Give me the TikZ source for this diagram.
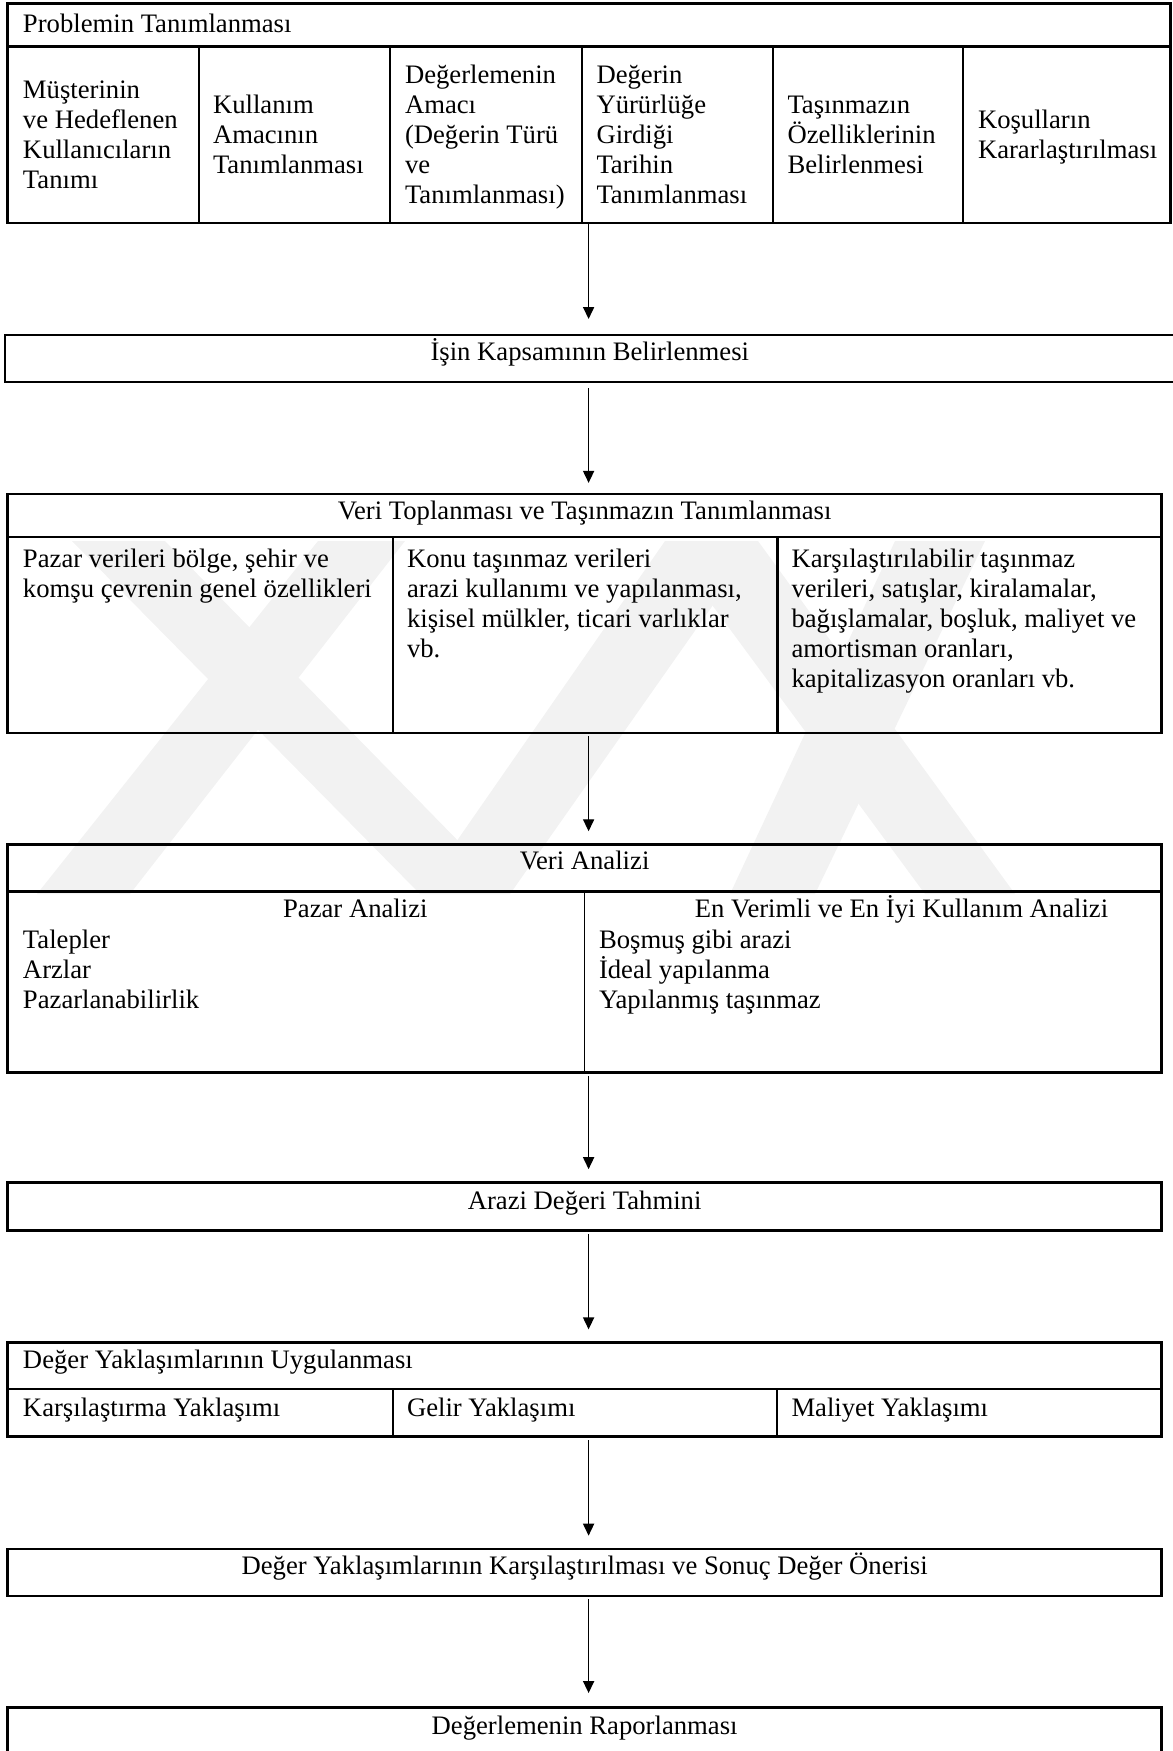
\documentclass[tikz,border=0pt]{standalone}
\usepackage{fontspec}
\setmainfont{Liberation Serif}
\usetikzlibrary{arrows.meta,fit}
% strut that fixes the height of a cell's first line
\newcommand\cellstrut{\rule{0pt}{9pt}}
\begin{document}
\begin{tikzpicture}[x=0.45pt,y=-0.45pt,
  frame/.style={draw, line width=1.2pt, inner sep=0pt, outer sep=0pt, fit={#1}},
  rule/.style={line width=1.0pt},
  thinrule/.style={line width=0.55pt},
  band/.style={fill=black!5},
  txt/.style={inner sep=0pt, outer sep=0pt, font=\fontsize{12pt}{13.6pt}\selectfont},
  cell/.style={txt, align=left, anchor=north west},
  lefttxt/.style={txt, anchor=base west},
  midtxt/.style={txt, anchor=base},
  flow/.style={line width=0.6pt, -{Triangle[length=5.4pt,width=5pt]},
               shorten <=1.5pt, shorten >=6pt}]
\useasboundingbox (0,0) rectangle (1173,1751);
\coordinate (ax) at (588.6,0);

% ---- faint background emblem (diagonal bands)
\fill[band] (37,894) -- (130,894) -- (405,541) -- (318,541) -- cycle;
\fill[band] (72,541) -- (165,541) -- (510,894) -- (420,894) -- cycle;
\fill[band] (665,541) -- (758,541) -- (510,894) -- (420,894) -- cycle;
\fill[band] (665,541) -- (758,541) -- (1015,894) -- (925,894) -- cycle;
\fill[band] (730,894) -- (815,894) -- (985,541) -- (895,541) -- cycle;

% ---- Problemin Tanımlanması
\node[frame={(7.5,3.3) (1170.7,223)}] (b1) {};
\draw[rule] (7.5,46.5) -- (1170.7,46.5);
\foreach \xx in {199,390,582,773,963} \draw[rule] (\xx,46.5) -- (\xx,223);
\node[lefttxt] (t1) at (23,33) {Problemin Tanımlanması};
\node[cell] (c11) at (23,78) {\cellstrut Müşterinin\\ve Hedeflenen\\Kullanıcıların\\Tanımı};
\node[cell] (c12) at (213,93.3) {\cellstrut Kullanım\\Amacının\\Tanımlanması};
\node[cell] (c13) at (405,63.1) {\cellstrut Değerlemenin\\Amacı\\(Değerin Türü\\ve\\Tanımlanması)};
\node[cell] (c14) at (596.5,63.1) {\cellstrut Değerin\\Yürürlüğe\\Girdiği\\Tarihin\\Tanımlanması};
\node[cell] (c15) at (787.5,93.3) {\cellstrut Taşınmazın\\Özelliklerinin\\Belirlenmesi};
\node[cell] (c16) at (978,108.4) {\cellstrut Koşulların\\Kararlaştırılması};

% ---- İşin Kapsamının Belirlenmesi
\node[frame={(5,335) (1182,382)}] (b2) {};
\node[midtxt] (t2) at (589.8,360) {İşin Kapsamının Belirlenmesi};

% ---- Veri Toplanması
\node[frame={(7.5,494) (1161.7,733)}] (b3) {};
\draw[rule] (7.5,537) -- (1161.7,537);
\foreach \xx in {393,777.5} \draw[rule] (\xx,537) -- (\xx,733);
\node[midtxt] (t3) at (584.6,519) {Veri Toplanması ve Taşınmazın Tanımlanması};
\node[cell] (c31) at (23,547) {\cellstrut Pazar verileri bölge, şehir ve\\komşu çevrenin genel özellikleri};
\node[cell] (c32) at (407,547) {\cellstrut Konu taşınmaz verileri\\arazi kullanımı ve yapılanması,\\kişisel mülkler, ticari varlıklar\\vb.};
\node[cell] (c33) at (791.5,547) {\cellstrut Karşılaştırılabilir taşınmaz\\verileri, satışlar, kiralamalar,\\bağışlamalar, boşluk, maliyet ve\\amortisman oranları,\\kapitalizasyon oranları vb.};

% ---- Veri Analizi
\node[frame={(7.5,844.6) (1161.7,1072.5)}] (b4) {};
\draw[rule] (7.5,891.5) -- (1161.7,891.5);
\draw[thinrule] (584.3,891.5) -- (584.3,1072.5);
\node[midtxt] (t4) at (584.6,869) {Veri Analizi};
\node[midtxt] (t41) at (355.3,917) {Pazar Analizi};
\node[midtxt] (t42) at (901.5,917) {En Verimli ve En İyi Kullanım Analizi};
\node[cell] (c41) at (23,928) {\cellstrut Talepler\\Arzlar\\Pazarlanabilirlik};
\node[cell] (c42) at (599,928) {\cellstrut Boşmuş gibi arazi\\İdeal yapılanma\\Yapılanmış taşınmaz};

% ---- Arazi Değeri Tahmini
\node[frame={(7.5,1182.5) (1161.7,1230.7)}] (b5) {};
\node[midtxt] (t5) at (584.6,1209) {Arazi Değeri Tahmini};

% ---- Değer Yaklaşımlarının Uygulanması
\node[frame={(7.5,1342.7) (1161.7,1436.7)}] (b6) {};
\draw[rule] (7.5,1389) -- (1161.7,1389);
\foreach \xx in {393,777} \draw[rule] (\xx,1389) -- (\xx,1436.7);
\node[lefttxt] (t6) at (23,1368) {Değer Yaklaşımlarının Uygulanması};
\node[lefttxt] (c61) at (23,1416) {Karşılaştırma Yaklaşımı};
\node[lefttxt] (c62) at (407,1416) {Gelir Yaklaşımı};
\node[lefttxt] (c63) at (791.5,1416) {Maliyet Yaklaşımı};

% ---- Karşılaştırma ve sonuç
\node[frame={(7.5,1549) (1161.7,1596)}] (b7) {};
\node[midtxt] (t7) at (584.6,1574) {Değer Yaklaşımlarının Karşılaştırılması ve Sonuç Değer Önerisi};

% ---- Raporlama
\node[frame={(7.5,1707.7) (1161.7,1790)}] (b8) {};
\node[midtxt] (t8) at (584.6,1734) {Değerlemenin Raporlanması};

% ---- flow arrows
\draw[flow, shorten <=0.5pt, shorten >=7.2pt] (b1.south -| ax) -- (b2.north -| ax);
\draw[flow, shorten <=2.7pt, shorten >=5pt] (b2.south -| ax) -- (b3.north -| ax);
\draw[flow] (b3.south -| ax) -- (b4.north -| ax);
\draw[flow] (b4.south -| ax) -- (b5.north -| ax);
\draw[flow] (b5.south -| ax) -- (b6.north -| ax);
\draw[flow] (b6.south -| ax) -- (b7.north -| ax);
\draw[flow, shorten >=6.6pt] (b7.south -| ax) -- (b8.north -| ax);
\end{tikzpicture}
\end{document}
